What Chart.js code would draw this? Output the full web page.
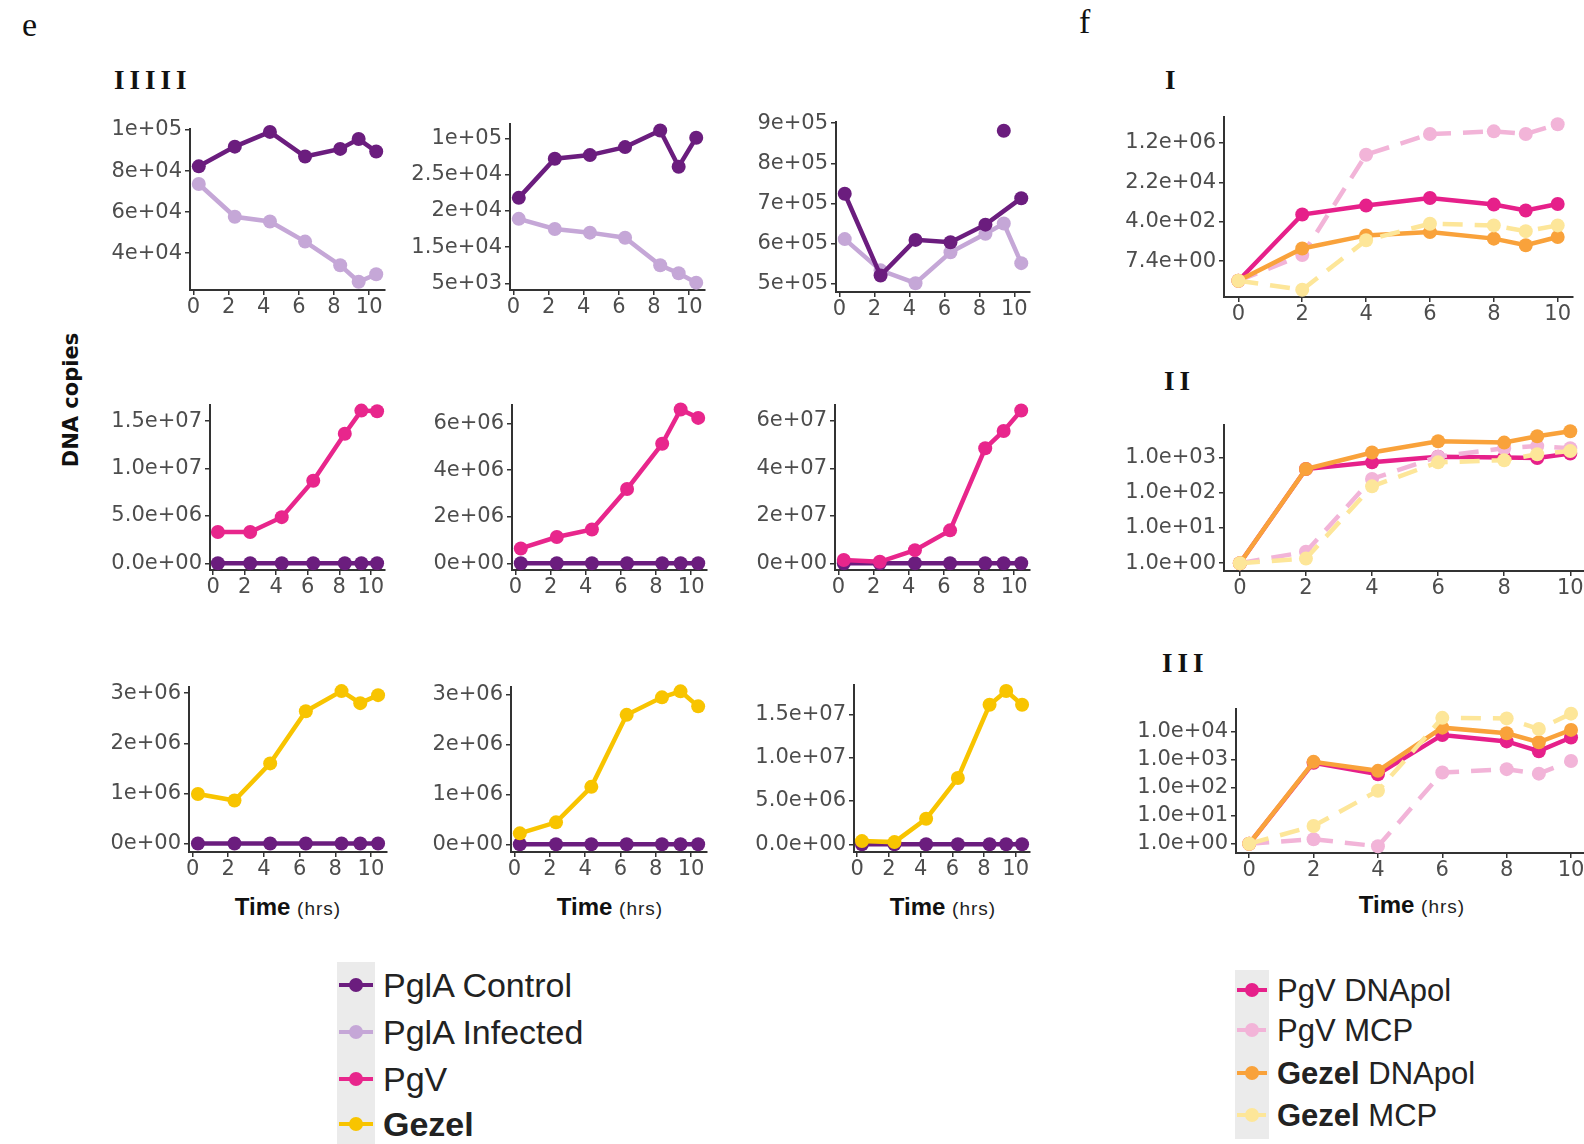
<!DOCTYPE html>
<html><head><meta charset="utf-8">
<script src="https://cdn.jsdelivr.net/npm/chart.js@4.4.1/dist/chart.umd.min.js"></script>
<style>
html,body{margin:0;padding:0;background:#fff;}
body{width:1584px;height:1144px;position:relative;overflow:hidden;font-family:"Liberation Sans",Arial,sans-serif;}
canvas{position:absolute;}
.t{position:absolute;white-space:nowrap;line-height:1;color:#111;}
.serif{font-family:"Liberation Serif","DejaVu Serif",serif;}
.roman{font-weight:bold;font-size:27px;letter-spacing:5px;}
.time{transform:translate(-50%,-50%);font-size:24px;}
.time b{font-weight:bold;}
.time span{font-size:19px;letter-spacing:1px;color:#222;}
.keybg{position:absolute;background:#ebebeb;}
.kline{position:absolute;height:4px;}
.kdot{position:absolute;width:14px;height:14px;border-radius:50%;}
.leg{position:absolute;white-space:nowrap;line-height:1;transform:translateY(-50%);color:#222;}
</style></head><body>

<div class="t serif" style="left:22px;top:8px;font-size:34px;">e</div>
<div class="t serif" style="left:1079px;top:5px;font-size:34px;">f</div>
<div class="t serif roman" style="left:114px;top:67px;">IIIII</div>
<div class="t serif roman" style="left:1165px;top:67px;">I</div>
<div class="t serif roman" style="left:1164px;top:368px;">II</div>
<div class="t serif roman" style="left:1162px;top:650px;">III</div>
<div class="t" style="left:71px;top:400px;transform:translate(-50%,-50%) rotate(-90deg);font-family:'DejaVu Sans',sans-serif;font-weight:bold;font-size:21px;">DNA copies</div>

<div class="t time" style="left:288px;top:907px;"><b>Time</b> <span>(hrs)</span></div>
<div class="t time" style="left:610px;top:907px;"><b>Time</b> <span>(hrs)</span></div>
<div class="t time" style="left:943px;top:907px;"><b>Time</b> <span>(hrs)</span></div>
<div class="t time" style="left:1412px;top:905px;"><b>Time</b> <span>(hrs)</span></div>

<div id="legends"></div>

<script>
// ---------------- DATA ----------------
const hoursE = [0.3, 2.35, 4.35, 6.35, 8.35, 9.4, 10.4];
const hoursF = [0, 2, 4, 6, 8, 9, 10];
const xTickValues = [0, 2, 4, 6, 8, 10];
const xTickLabels = ['0', '2', '4', '6', '8', '10'];

// e, row 1 (host PglA)
const e1Control  = [82300, 91900, 99100, 87100, 90800, 95600, 89500];
const e1Infected = [73700, 57700, 55400, 45600, 34100, 26000, 29700];
const e1Ticks  = [40000, 60000, 80000, 100000];
const e1Labels = ['4e+04', '6e+04', '8e+04', '1e+05'];

const e2Control  = [21800, 27200, 27700, 28800, 31100, 26100, 30100];
const e2Infected = [18900, 17500, 17000, 16300, 12500, 11400, 10100];
const e2Ticks  = [10000, 15000, 20000, 25000, 30000];
const e2Labels = ['5e+03', '1.5e+04', '2e+04', '2.5e+04', '1e+05'];

const e3Control      = [724000, 520000, 609000, 603000, 647000, null, 713000];
const e3ControlLone  = [null, null, null, null, null, 881000, null];
const e3Infected     = [611000, 533000, 501000, 578000, 624000, 650000, 551000];
const e3Ticks  = [500000, 600000, 700000, 800000, 900000];
const e3Labels = ['5e+05', '6e+05', '7e+05', '8e+05', '9e+05'];

// e, row 2 (PgV)
const e4PgV = [3310000, 3310000, 4870000, 8710000, 13660000, 16110000, 16040000];
const e4Control = [5000, 5000, 5000, 5000, 5000, 5000, 5000];
const e4Ticks  = [0, 5000000, 10000000, 15000000];
const e4Labels = ['0.0e+00', '5.0e+06', '1.0e+07', '1.5e+07'];

const e5PgV = [640000, 1130000, 1450000, 3190000, 5130000, 6600000, 6240000];
const e5Control = [2000, 2000, 2000, 2000, 2000, 2000, 2000];
const e5Ticks  = [0, 2000000, 4000000, 6000000];
const e5Labels = ['0e+00', '2e+06', '4e+06', '6e+06'];

const e6PgV = [1400000, 670000, 5560000, 13900000, 48500000, 55800000, 64400000];
const e6Control = [20000, 20000, 20000, 20000, 20000, 20000, 20000];
const e6Ticks  = [0, 20000000, 40000000, 60000000];
const e6Labels = ['0e+00', '2e+07', '4e+07', '6e+07'];

// e, row 3 (Gezel)
const e7Gezel = [990000, 860000, 1600000, 2640000, 3040000, 2800000, 2960000];
const e7Control = [2000, 2000, 2000, 2000, 2000, 2000, 2000];
const e7Ticks  = [0, 1000000, 2000000, 3000000];
const e7Labels = ['0e+00', '1e+06', '2e+06', '3e+06'];

const e8Gezel = [220000, 440000, 1150000, 2590000, 2940000, 3060000, 2760000];
const e8Control = [2000, 2000, 2000, 2000, 2000, 2000, 2000];
const e8Ticks  = [0, 1000000, 2000000, 3000000];
const e8Labels = ['0e+00', '1e+06', '2e+06', '3e+06'];

const e9Gezel = [380000, 260000, 2950000, 7650000, 16100000, 17700000, 16100000];
const e9Control = [10000, 10000, 10000, 10000, 10000, 10000, 10000];
const e9Ticks  = [0, 5000000, 10000000, 15000000];
const e9Labels = ['0.0e+00', '5.0e+06', '1.0e+07', '1.5e+07'];

// f (log scales)
const fIPgvDnapol   = [1, 829, 2060, 4450, 2280, 1250, 2440];
const fIPgvMcp      = [1, 13.5, 362000, 2950000, 3870000, 2950000, 8000000];
const fIGezelDnapol = [1, 26.6, 100, 140, 72, 37, 85];
const fIGezelMcp    = [1, 0.4, 61, 327, 276, 154, 276];
const fITicks  = [7.389, 403.4, 22026, 1202604];
const fILabels = ['7.4e+00', '4.0e+02', '2.2e+04', '1.2e+06'];

const fIIPgvDnapol   = [1, 468, 724, 1050, 1000, 955, 1290];
const fIIPgvMcp      = [1, 2.1, 245, 1050, 1820, 2090, 1820];
const fIIGezelDnapol = [1, 468, 1380, 2880, 2630, 3980, 5500];
const fIIGezelMcp    = [1, 1.35, 151, 724, 832, 1230, 1510];
const fIITicks  = [1, 10, 100, 1000];
const fIILabels = ['1.0e+00', '1.0e+01', '1.0e+02', '1.0e+03'];

const fIIIPgvDnapol   = [1, 776, 302, 7590, 4470, 2000, 6170];
const fIIIPgvMcp      = [1, 1.45, 0.81, 347, 457, 316, 891];
const fIIIGezelDnapol = [1, 832, 398, 13800, 8710, 4170, 11500];
const fIIIGezelMcp    = [1, 4.3, 77.6, 30900, 29500, 12300, 43700];
const fIIITicks  = [1, 10, 100, 1000, 10000];
const fIIILabels = ['1.0e+00', '1.0e+01', '1.0e+02', '1.0e+03', '1.0e+04'];

const legendE = ['PglA Control', 'PglA Infected', 'PgV', 'Gezel'];
const legendF = ['PgV DNApol', 'PgV MCP', 'Gezel DNApol', 'Gezel MCP'];

// ---------------- STYLE ----------------
const C_CTRL = '#6b1d7e', C_INF = '#c5a7d7', C_PGV = '#e8268c', C_GEZ = '#f8c400';
const F_PGV_DNA = '#e6208a', F_PGV_MCP = '#f2b4d8', F_GEZ_DNA = '#f9a23b', F_GEZ_MCP = '#fde699';
const TICK_FONT = {family: '"DejaVu Sans", sans-serif', size: 21};
const AXIS_COLOR = '#333333', TICK_COLOR = '#4d4d4d';
const DASH = [20, 12];

function xy(xs, ys) { return xs.map((x, i) => ({x: x, y: ys[i]})); }
function series(label, xs, ys, color, extra) {
  return Object.assign({
    label: label, data: xy(xs, ys), borderColor: color, backgroundColor: color,
    pointBackgroundColor: color, pointBorderColor: color, pointBorderWidth: 0,
    borderWidth: 4.5, pointRadius: 7, pointHoverRadius: 7, tension: 0, spanGaps: true, clip: false
  }, extra || {});
}

function panel(g, xr, yr, yType, yTicks, yLabels, datasets) {
  const YW = 110, PT = 14, PR = 14, XH = 40;
  const left = Math.round(g.L - YW), top = Math.round(g.T - PT);
  const w = Math.round(g.R - g.L + YW + PR), h = Math.round(g.B - g.T + PT + XH);
  const c = document.createElement('canvas');
  c.width = w; c.height = h;
  c.style.left = left + 'px'; c.style.top = top + 'px';
  c.style.width = w + 'px'; c.style.height = h + 'px';
  document.body.appendChild(c);
  const gridCfg = {display: true, drawOnChartArea: false, drawTicks: true, tickLength: 5, color: AXIS_COLOR, lineWidth: 1.5};
  const borderCfg = {display: true, color: AXIS_COLOR, width: 2};
  new Chart(c, {
    type: 'line',
    data: {datasets: datasets},
    options: {
      responsive: false, animation: false, devicePixelRatio: 1,
      layout: {padding: {left: 0, top: PT, right: PR, bottom: 0}, autoPadding: false},
      plugins: {legend: {display: false}, tooltip: {enabled: false}},
      scales: {
        x: {
          type: 'linear', min: xr[0], max: xr[1],
          afterBuildTicks: s => { s.ticks = xTickValues.map(v => ({value: v})); },
          afterFit: s => { s.height = XH; },
          ticks: {font: TICK_FONT, color: TICK_COLOR, padding: 0, maxRotation: 0, autoSkip: false,
                  callback: (v, i) => xTickLabels[i]},
          grid: gridCfg, border: borderCfg
        },
        y: {
          type: yType, min: yr[0], max: yr[1],
          afterBuildTicks: s => { s.ticks = yTicks.map(v => ({value: v})); },
          afterFit: s => { s.width = YW; },
          ticks: {font: TICK_FONT, color: TICK_COLOR, padding: 3, autoSkip: false,
                  callback: (v, i) => yLabels[i]},
          grid: gridCfg, border: borderCfg
        }
      }
    }
  });
}

const xrE = [-0.2, 10.9];

// Row 1
panel({L: 190, T: 127, R: 385, B: 290}, xrE, [22000, 100700], 'linear', e1Ticks, e1Labels, [
  series('PglA Control', hoursE, e1Control, C_CTRL),
  series('PglA Infected', hoursE, e1Infected, C_INF)
]);
panel({L: 510, T: 122, R: 705, B: 290}, xrE, [9087, 32044], 'linear', e2Ticks, e2Labels, [
  series('PglA Control', hoursE, e2Control, C_CTRL),
  series('PglA Infected', hoursE, e2Infected, C_INF)
]);
panel({L: 836, T: 120, R: 1030, B: 292}, xrE, [479000, 904000], 'linear', e3Ticks, e3Labels, [
  series('PglA Control', hoursE, e3ControlLone, C_CTRL, {showLine: false}),
  series('PglA Control', hoursE, e3Control, C_CTRL),
  series('PglA Infected', hoursE, e3Infected, C_INF)
]);
// Row 2
panel({L: 210, T: 403, R: 385, B: 570}, xrE, [-700000, 16740000], 'linear', e4Ticks, e4Labels, [
  series('PgV', hoursE, e4PgV, C_PGV),
  series('PglA Control', hoursE, e4Control, C_CTRL)
]);
panel({L: 512, T: 403, R: 707, B: 570}, xrE, [-285000, 6810000], 'linear', e5Ticks, e5Labels, [
  series('PgV', hoursE, e5PgV, C_PGV),
  series('PglA Control', hoursE, e5Control, C_CTRL)
]);
panel({L: 835, T: 403, R: 1030, B: 570}, xrE, [-2800000, 66900000], 'linear', e6Ticks, e6Labels, [
  series('PgV', hoursE, e6PgV, C_PGV),
  series('PglA Control', hoursE, e6Control, C_CTRL)
]);
// Row 3
panel({L: 189, T: 685, R: 387, B: 852}, xrE, [-166000, 3130000], 'linear', e7Ticks, e7Labels, [
  series('Gezel', hoursE, e7Gezel, C_GEZ),
  series('PglA Control', hoursE, e7Control, C_CTRL)
]);
panel({L: 511, T: 685, R: 707, B: 852}, xrE, [-153000, 3155000], 'linear', e8Ticks, e8Labels, [
  series('Gezel', hoursE, e8Gezel, C_GEZ),
  series('PglA Control', hoursE, e8Control, C_CTRL)
]);
panel({L: 854, T: 683, R: 1030, B: 852}, xrE, [-880000, 18430000], 'linear', e9Ticks, e9Labels, [
  series('Gezel', hoursE, e9Gezel, C_GEZ),
  series('PglA Control', hoursE, e9Control, C_CTRL)
]);

// f panels
function fSets(pd, pm, gd, gm) {
  return [
    series('Gezel MCP', hoursF, gm, F_GEZ_MCP, {borderDash: DASH}),
    series('Gezel DNApol', hoursF, gd, F_GEZ_DNA),
    series('PgV MCP', hoursF, pm, F_PGV_MCP, {borderDash: DASH}),
    series('PgV DNApol', hoursF, pd, F_PGV_DNA)
  ];
}
panel({L: 1224, T: 115, R: 1573, B: 297}, [-0.45, 10.48], [0.192, 17300000], 'logarithmic', fITicks, fILabels,
  fSets(fIPgvDnapol, fIPgvMcp, fIGezelDnapol, fIGezelMcp));
panel({L: 1224, T: 423, R: 1600, B: 571}, [-0.48, 10.9], [0.646, 8510], 'logarithmic', fIITicks, fIILabels,
  fSets(fIIPgvDnapol, fIIPgvMcp, fIIGezelDnapol, fIIGezelMcp));
panel({L: 1236, T: 707, R: 1600, B: 853}, [-0.41, 10.9], [0.468, 66070], 'logarithmic', fIIITicks, fIIILabels,
  fSets(fIIIPgvDnapol, fIIIPgvMcp, fIIIGezelDnapol, fIIIGezelMcp));

// ---------------- LEGENDS ----------------
function legend(x, yTop, keyW, ys, names, colors, dashed, fontSize) {
  const host = document.getElementById('legends');
  const bg = document.createElement('div');
  bg.className = 'keybg';
  bg.style.left = x + 'px'; bg.style.top = yTop + 'px';
  bg.style.width = keyW + 'px'; bg.style.height = (ys[ys.length - 1] - yTop + 24) + 'px';
  host.appendChild(bg);
  names.forEach((n, i) => {
    const y = ys[i];
    const ln = document.createElement('div');
    ln.className = 'kline';
    ln.style.left = (x + 2) + 'px'; ln.style.width = (keyW - 4) + 'px'; ln.style.top = (y - 2) + 'px';
    ln.style.background = dashed[i]
      ? 'repeating-linear-gradient(90deg,' + colors[i] + ' 0 12px, transparent 12px 17px)'
      : colors[i];
    host.appendChild(ln);
    const d = document.createElement('div');
    d.className = 'kdot';
    d.style.left = (x + keyW / 2 - 7) + 'px'; d.style.top = (y - 7) + 'px';
    d.style.background = colors[i];
    host.appendChild(d);
    const t = document.createElement('div');
    t.className = 'leg';
    t.style.left = (x + keyW + 8) + 'px'; t.style.top = y + 'px'; t.style.fontSize = fontSize + 'px';
    if (n.indexOf('Gezel') === 0) {
      t.innerHTML = '<b>Gezel</b>' + n.slice(5);
    } else {
      t.textContent = n;
    }
    host.appendChild(t);
  });
}
legend(337, 962, 38, [985, 1032, 1079, 1124], legendE, [C_CTRL, C_INF, C_PGV, C_GEZ], [false, false, false, false], 34);
legend(1235, 970, 34, [990, 1030, 1073, 1115], legendF, [F_PGV_DNA, F_PGV_MCP, F_GEZ_DNA, F_GEZ_MCP], [false, true, false, true], 31);
</script>
</body></html>
